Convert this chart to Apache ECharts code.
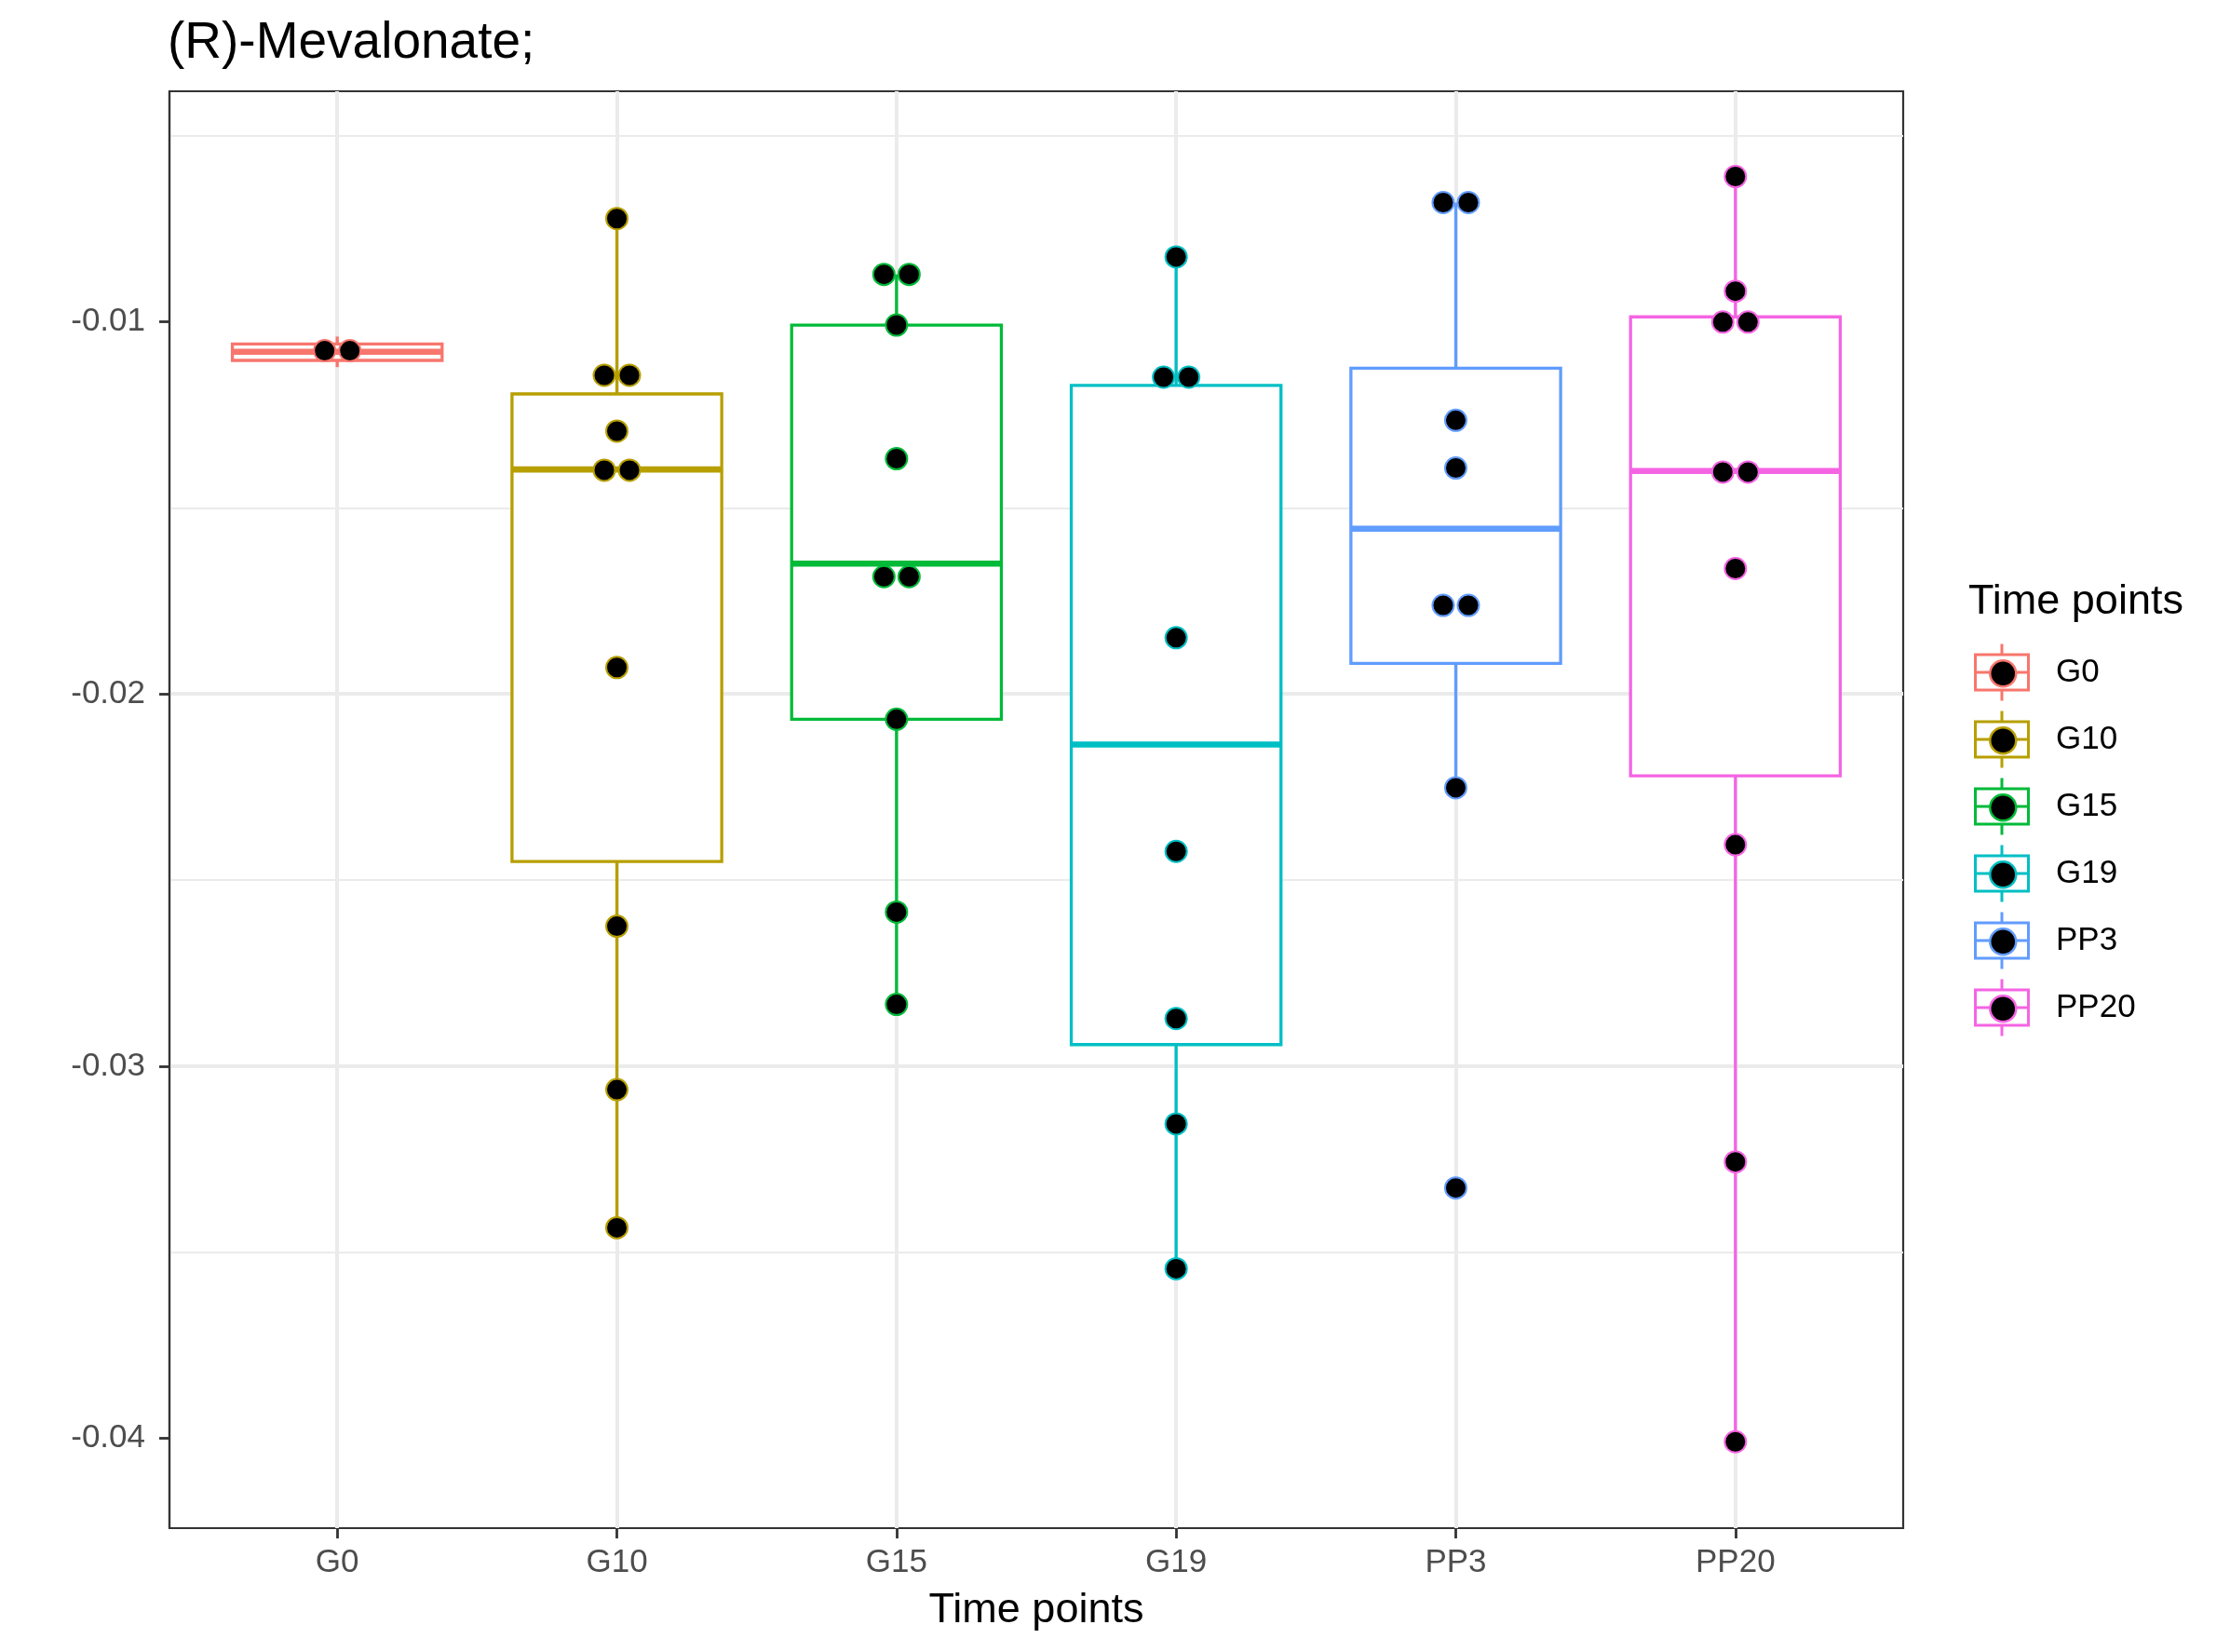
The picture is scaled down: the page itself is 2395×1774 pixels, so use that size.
<!DOCTYPE html>
<html>
<head>
<meta charset="utf-8">
<script src="https://cdn.jsdelivr.net/npm/echarts@6/dist/echarts.min.js"></script>
<style>
html,body{margin:0;padding:0;background:#ffffff;}
#chart{width:2395px;height:1774px;}
</style>
</head>
<body>
<div id="chart"></div>
<script>
// ---------------- data ----------------
const categories = ['G0', 'G10', 'G15', 'G19', 'PP3', 'PP20'];
const groupColors = ['#F8766D', '#B79F00', '#00BA38', '#00BFC4', '#619CFF', '#F564E3'];

// box statistics per group (lower whisker, Q1, median, Q3, upper whisker)
const boxLower  = [-0.01122, -0.03434, -0.02834, -0.03544, -0.02252, -0.04009];
const boxQ1     = [-0.01104, -0.02450, -0.02068, -0.02942, -0.01918, -0.02220];
const boxMedian = [-0.01081, -0.01397, -0.01650, -0.02136, -0.01556, -0.01401];
const boxQ3     = [-0.01060, -0.01194, -0.01009, -0.01171, -0.01125, -0.00987];
const boxUpper  = [-0.01040, -0.00723, -0.00873, -0.00826, -0.00680, -0.00610];

// dot positions (binned dot plot) per group
const dotsG0   = [-0.01078, -0.01078];
const dotsG10  = [-0.00723, -0.01144, -0.01144, -0.01294, -0.01399, -0.01399, -0.01929, -0.02624, -0.03063, -0.03434];
const dotsG15  = [-0.00873, -0.00873, -0.01009, -0.01368, -0.01685, -0.01685, -0.02068, -0.02586, -0.02834];
const dotsG19  = [-0.00826, -0.01149, -0.01149, -0.01849, -0.02423, -0.02872, -0.03155, -0.03544];
const dotsPP3  = [-0.00680, -0.00680, -0.01265, -0.01393, -0.01762, -0.01762, -0.02252, -0.03327];
const dotsPP20 = [-0.00610, -0.00918, -0.01001, -0.01001, -0.01404, -0.01404, -0.01663, -0.02405, -0.03257, -0.04009];
const dotGroups = [dotsG0, dotsG10, dotsG15, dotsG19, dotsPP3, dotsPP20];

const yTickValues = [-0.04, -0.03, -0.02, -0.01];
const yMin = -0.04241;
const yMax = -0.00381;

// ---------------- layout / style ----------------
const FONT = '"Liberation Sans", Arial, Helvetica, sans-serif';
const W = 2395, H = 1774;
const PANEL_LEFT = 182, PANEL_RIGHT = 2044, PANEL_TOP = 98, PANEL_BOTTOM = 1641;
const X_EXPAND = 0.6;                       // discrete axis expansion
const unitPx = (PANEL_RIGHT - PANEL_LEFT) / (categories.length - 1 + 2 * X_EXPAND);
const inset = X_EXPAND * unitPx;
const BOX_WIDTH = 0.75;
const BOX_LW = 3.3;
const DOT_STEP = 0.09;

function renderBox(params, api) {
  const x = api.value(0);
  const lo = api.coord([x, api.value(1)]);
  const q1 = api.coord([x, api.value(2)]);
  const md = api.coord([x, api.value(3)]);
  const q3 = api.coord([x, api.value(4)]);
  const hi = api.coord([x, api.value(5)]);
  const hw = api.size([BOX_WIDTH, 0])[0] / 2;
  const color = api.visual('color');
  const cx = md[0];
  return {
    type: 'group',
    children: [
      { type: 'line', shape: { x1: cx, y1: hi[1], x2: cx, y2: q3[1] }, style: { stroke: color, lineWidth: BOX_LW } },
      { type: 'line', shape: { x1: cx, y1: q1[1], x2: cx, y2: lo[1] }, style: { stroke: color, lineWidth: BOX_LW } },
      { type: 'rect', shape: { x: cx - hw, y: q3[1], width: 2 * hw, height: q1[1] - q3[1] },
        style: { fill: '#ffffff', stroke: color, lineWidth: BOX_LW } },
      { type: 'line', shape: { x1: cx - hw, y1: md[1], x2: cx + hw, y2: md[1] },
        style: { stroke: color, lineWidth: BOX_LW * 2, lineCap: 'butt' } }
    ]
  };
}

function dotData(idx) {
  const vals = dotGroups[idx];
  const counts = {};
  vals.forEach(v => { counts[v] = (counts[v] || 0) + 1; });
  const seen = {};
  return vals.map(v => {
    const n = counts[v];
    const k = seen[v] || 0;
    seen[v] = k + 1;
    return [idx + (k - (n - 1) / 2) * DOT_STEP, v];
  });
}

const boxSeries = categories.map((c, i) => ({
  name: c,
  type: 'custom',
  xAxisIndex: 0,
  yAxisIndex: 0,
  itemStyle: { color: groupColors[i] },
  encode: { x: 0, y: [1, 2, 3, 4, 5] },
  data: [[i, boxLower[i], boxQ1[i], boxMedian[i], boxQ3[i], boxUpper[i]]],
  renderItem: renderBox,
  z: 2,
  silent: true
}));

const dotSeries = categories.map((c, i) => ({
  name: c,
  type: 'scatter',
  xAxisIndex: 0,
  yAxisIndex: 0,
  symbol: 'circle',
  symbolSize: 23,
  itemStyle: { color: '#000000', borderColor: groupColors[i], borderWidth: 2, opacity: 1 },
  data: dotData(i),
  z: 3,
  silent: true
}));

const BOX_ICON = 'path://M0 10H60V13H0Z M0 48H60V51H0Z M0 10H3V51H0Z M57 10H60V51H57Z M0 29H60V32H0Z M28.5 0H31.5V10H28.5Z M28.5 51H31.5V61H28.5Z';

const option = {
  backgroundColor: '#ffffff',
  animation: false,
  title: [
    { text: '(R)-Mevalonate;', left: 180, top: 19, padding: 0,
      textStyle: { fontSize: 55, lineHeight: 55, fontWeight: 'normal', color: '#000000', fontFamily: FONT } },
    { text: 'Time points', left: 2114, top: 624, padding: 0,
      textStyle: { fontSize: 45, lineHeight: 45, fontWeight: 'normal', color: '#000000', fontFamily: FONT } }
  ],
  legend: [
    {
      orient: 'vertical', left: 2120, top: 691.5, padding: 0,
      itemWidth: 60, itemHeight: 61, itemGap: 11, selectedMode: false,
      icon: BOX_ICON,
      data: categories.map((c, i) => ({ name: c, itemStyle: { color: groupColors[i], borderWidth: 0 } })),
      textStyle: { fontSize: 35, color: '#000000', fontFamily: FONT, padding: [12, 0, 0, 23] }
    },
    {
      orient: 'vertical', left: 2136, top: 708, padding: 0,
      itemWidth: 28, itemHeight: 28, itemGap: 41.5, selectedMode: false,
      icon: 'circle',
      data: categories.map((c, i) => ({ name: c, itemStyle: { color: '#000000', borderColor: groupColors[i], borderWidth: 2.5 } })),
      formatter: () => '',
      textStyle: { fontSize: 8 }
    }
  ],
  grid: [
    { left: PANEL_LEFT, right: W - PANEL_RIGHT, top: PANEL_TOP, bottom: H - PANEL_BOTTOM,
      show: true, borderColor: '#333333', borderWidth: 2.2, backgroundColor: 'transparent',
      containLabel: false, outerBoundsMode: 'none' },
    { left: PANEL_LEFT + inset, right: W - PANEL_RIGHT + inset, top: PANEL_TOP, bottom: H - PANEL_BOTTOM,
      show: false, containLabel: false, outerBoundsMode: 'none' }
  ],
  xAxis: [
    { type: 'value', gridIndex: 0, min: -X_EXPAND, max: categories.length - 1 + X_EXPAND, show: false },
    {
      type: 'category', gridIndex: 1, data: categories, boundaryGap: false,
      axisLine: { show: false },
      axisTick: { show: true, interval: 0, length: 11, lineStyle: { color: '#333333', width: 2.8 } },
      axisLabel: { interval: 0, margin: 20, fontSize: 35, lineHeight: 35, color: '#4D4D4D', fontFamily: FONT },
      splitLine: { show: true, interval: 0, lineStyle: { color: '#EBEBEB', width: 4 } },
      name: 'Time points', nameLocation: 'middle', nameGap: 66,
      nameTextStyle: { fontSize: 45, lineHeight: 45, color: '#000000', fontFamily: FONT }
    }
  ],
  yAxis: [
    {
      type: 'value', gridIndex: 0, min: yMin, max: yMax, minInterval: 0.01, maxInterval: 0.01,
      axisLine: { show: true, onZero: false, lineStyle: { color: '#333333', width: 2.2 } },
      axisTick: { show: true, length: 11, lineStyle: { color: '#333333', width: 2.8 }, customValues: yTickValues },
      axisLabel: { customValues: yTickValues, margin: 26, fontSize: 35, lineHeight: 35, color: '#4D4D4D', fontFamily: FONT,
        padding: [10, 0, 0, 0], formatter: v => v.toFixed(2) },
      splitLine: { show: true, showMinLine: false, showMaxLine: false, lineStyle: { color: '#EBEBEB', width: 4 } },
      minorTick: { show: false, splitNumber: 2 },
      minorSplitLine: { show: true, lineStyle: { color: '#EBEBEB', width: 2 } }
    },
    { type: 'value', gridIndex: 1, min: yMin, max: yMax, show: false }
  ],
  series: boxSeries.concat(dotSeries)
};

const chart = echarts.init(document.getElementById('chart'), null, { renderer: 'canvas', width: W, height: H });
chart.setOption(option);
</script>
</body>
</html>
